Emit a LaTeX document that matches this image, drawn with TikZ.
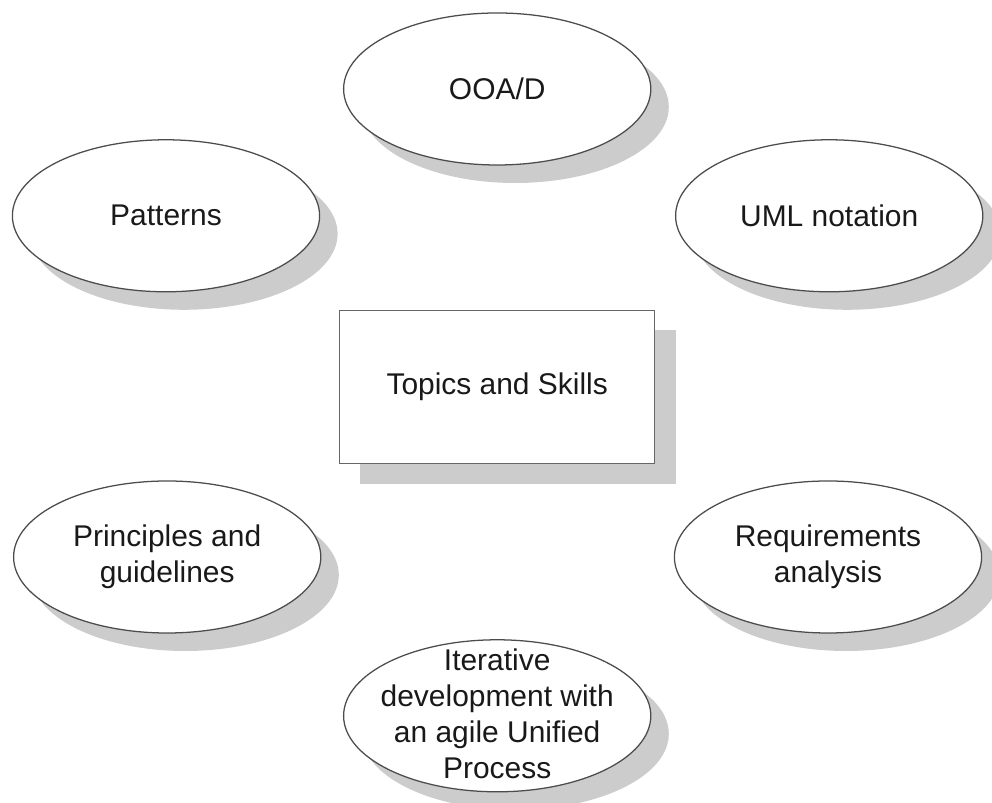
\documentclass[tikz,border=0pt]{standalone}
\usepackage{fontspec}
\setmainfont{Liberation Sans}
\usetikzlibrary{shapes.geometric, shadows}

\tikzset{
  bubble/.style={ellipse, draw=black!70, line width=0.9pt, fill=white,
                 minimum width=7.68cm, minimum height=3.8cm, inner sep=0pt,
                 drop shadow={shadow xshift=0.45cm, shadow yshift=-0.45cm,
                              fill=black!20, opacity=1}},
  topicbox/.style={rectangle, draw=black!60, line width=0.9pt, fill=white,
                   minimum width=7.88cm, minimum height=3.83cm, inner sep=0pt,
                   drop shadow={shadow xshift=0.52cm, shadow yshift=-0.5cm,
                                fill=black!20, opacity=1}},
  words/.style={align=center, text=black!90,
                font=\fontsize{21.3}{25.6}\selectfont}
}

\begin{document}
\begin{tikzpicture}
\useasboundingbox (0,0) rectangle (24.8,20.075);

% Centre box
\node[topicbox] (topics) at (12.43, 10.40) {};
\node[words] (topicstext) at (topics) {Topics and Skills};

% Ellipses round the box
\node[bubble] (ooad) at (12.43, 17.85) {};
\node[words] (ooadtext) at (ooad) {OOA/D};

\node[bubble] (patterns) at (4.15, 14.68) {};
\node[words] (patternstext) at (patterns) {Patterns};

\node[bubble] (uml) at (20.73, 14.68) {};
\node[words] (umltext) at (uml) {UML notation};

\node[bubble] (principles) at (4.18, 6.15) {};
\node[words] (principlestext) at (principles) {Principles and\\guidelines};

\node[bubble] (reqs) at (20.70, 6.15) {};
\node[words] (reqstext) at (reqs) {Requirements\\analysis};

\node[bubble] (iterative) at (12.43, 2.18) {};
\node[words, yshift=0.04cm] (iterativetext) at (iterative) {Iterative\\development with\\an agile Unified\\Process};

\end{tikzpicture}
\end{document}
